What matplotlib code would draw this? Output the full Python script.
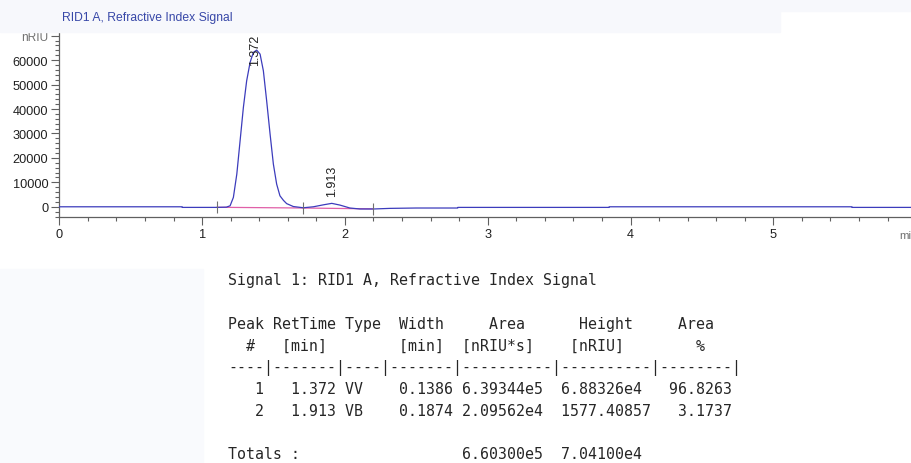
import matplotlib.pyplot as plt
from matplotlib.patches import Rectangle
from matplotlib.ticker import MultipleLocator, FixedLocator

# signal trace (min, nRIU)
trace_t = [0.0, 0.86, 0.861, 1.10, 1.17, 1.196, 1.219, 1.243, 1.266, 1.289,
           1.312, 1.336, 1.359, 1.382, 1.406, 1.429, 1.452, 1.476, 1.499,
           1.522, 1.545, 1.57, 1.592, 1.639, 1.709, 1.779, 1.849, 1.908,
           1.965, 2.035, 2.105, 2.2, 2.315, 2.5, 2.79, 2.791, 3.85, 3.851,
           5.55, 5.551, 5.97]
trace_v = [0, 0, -250, -250, -150, 410, 3840, 13370, 27000, 40650,
           51530, 59060, 63150, 64090, 62450, 55620, 43350, 29730, 17460,
           9280, 4500, 2600, 1300, 100, -400, 0, 800, 1400,
           700, -500, -900, -900, -650, -500, -500, -250, -250, 0,
           0, -250, -250]

# integration baseline (start / valley / end)
base_t = [1.105, 1.706, 2.197]
base_v = [-200, -500, -850]

# peak labels
peak_rt = [1.372, 1.913]
peak_top = [64090, 1400]

# report table
peak_no = [1, 2]
peak_type = ['VV', 'VB']
peak_width = [0.1386, 0.1874]
peak_area = ['6.39344e5', '2.09562e4']
peak_height = ['6.88326e4', '1577.40857']
area_pct = [96.8263, 3.1737]
total_area = '6.60300e5'
total_height = '7.04100e4'

W, H = 912, 464
fig = plt.figure(figsize=(W / 100, H / 100), dpi=100)
fig.patch.set_facecolor('white')

# light panel backgrounds
bg = '#f7f8fc'
fig.patches.append(Rectangle((0, 1 - 33 / H), 780 / W, 33 / H, transform=fig.transFigure,
                             color=bg, zorder=0))
fig.patches.append(Rectangle((780 / W, 1 - 12 / H), 1, 12 / H, transform=fig.transFigure,
                             color=bg, zorder=0))
fig.patches.append(Rectangle((0, 0), 203 / W, (H - 270) / H, transform=fig.transFigure,
                             color='#f9fafd', zorder=0))

ax = fig.add_axes([59.3 / W, (H - 218.3) / H, 1 - 59.3 / W, (218.3 - 33) / H])
ax.set_facecolor('none')
ymin, ymax = -4300, 71500
ax.set_xlim(0, 5.971)
ax.set_ylim(ymin, ymax)

ax.plot(trace_t, trace_v, color='#3c3cbc', lw=0.9, zorder=3)
ax.plot(base_t, base_v, color='#e060a8', lw=0.9, zorder=2)
ax.plot(base_t, base_v, ls='none', marker='|', ms=8, mew=0.8, color='#707070', zorder=4)

# rotated retention time labels
px_per_unit = (218.3 - 33) / (ymax - ymin)
for rt, top in zip(peak_rt, peak_top):
    y = min(top + 7 / px_per_unit, ymax - 33 / px_per_unit)
    ax.text(rt, y, f'{rt:.3f}', rotation=90, ha='center', va='bottom',
            fontsize=9, family='Liberation Sans', color='#202020')

for s in ['top', 'right']:
    ax.spines[s].set_visible(False)
for s in ['left', 'bottom']:
    ax.spines[s].set_color('#606060')
    ax.spines[s].set_linewidth(0.9)

ax.xaxis.set_major_locator(MultipleLocator(1))
ax.xaxis.set_minor_locator(MultipleLocator(0.2))
ax.yaxis.set_major_locator(FixedLocator(list(range(0, 70001, 10000))))
ax.yaxis.set_minor_locator(MultipleLocator(2000))

ax.tick_params(which='major', length=6, width=0.8, color='#606060', labelsize=9.2,
               labelcolor='#202020', pad=2)
ax.tick_params(which='minor', length=3, width=0.8, color='#606060')
ax.set_xticks(range(6))
ax.set_xticklabels([str(v) for v in range(6)], family='Liberation Sans')
ax.set_yticklabels([str(v) for v in range(0, 60001, 10000)] + ['nRIU'],
                   family='Liberation Sans')
ax.get_yticklabels()[-1].set_color('#707070')
ax.get_yticklabels()[-1].set_fontsize(8.6)

ax.annotate('min', xy=(5.885, 0), xycoords=('data', 'axes fraction'), xytext=(0, -9),
            textcoords='offset points', ha='left', va='top', fontsize=8.2,
            family='Liberation Sans', color='#707070', annotation_clip=False)

fig.text(62 / W, 1 - 18 / H, 'RID1 A, Refractive Index Signal', ha='left', va='center',
         fontsize=8.7, family='Liberation Sans', color='#3848a8')

# report text block
lines = ['Signal 1: RID1 A, Refractive Index Signal',
         '',
         'Peak RetTime Type  Width     Area      Height     Area',
         '  #   [min]        [min]  [nRIU*s]    [nRIU]        %',
         '----|-------|----|-------|----------|----------|--------|']
for n, rt, tp, w, ar, ht, pc in zip(peak_no, peak_rt, peak_type, peak_width,
                                     peak_area, peak_height, area_pct):
    lines.append(f'{n:>4}   {rt:5.3f} {tp:<2}    {w:6.4f} {ar}  {ht:<10}{pc:>9.4f}')
lines.append('')
lines.append(f"{'Totals :':<26}{total_area}  {total_height}")

y0, dy = 281, 21.75
for i, line in enumerate(lines):
    fig.text(228 / W, 1 - (y0 + i * dy) / H, line, ha='left', va='center',
             fontsize=10.75, family='DejaVu Sans Mono', color='#262626')

fig.savefig('out.png', dpi=100)
